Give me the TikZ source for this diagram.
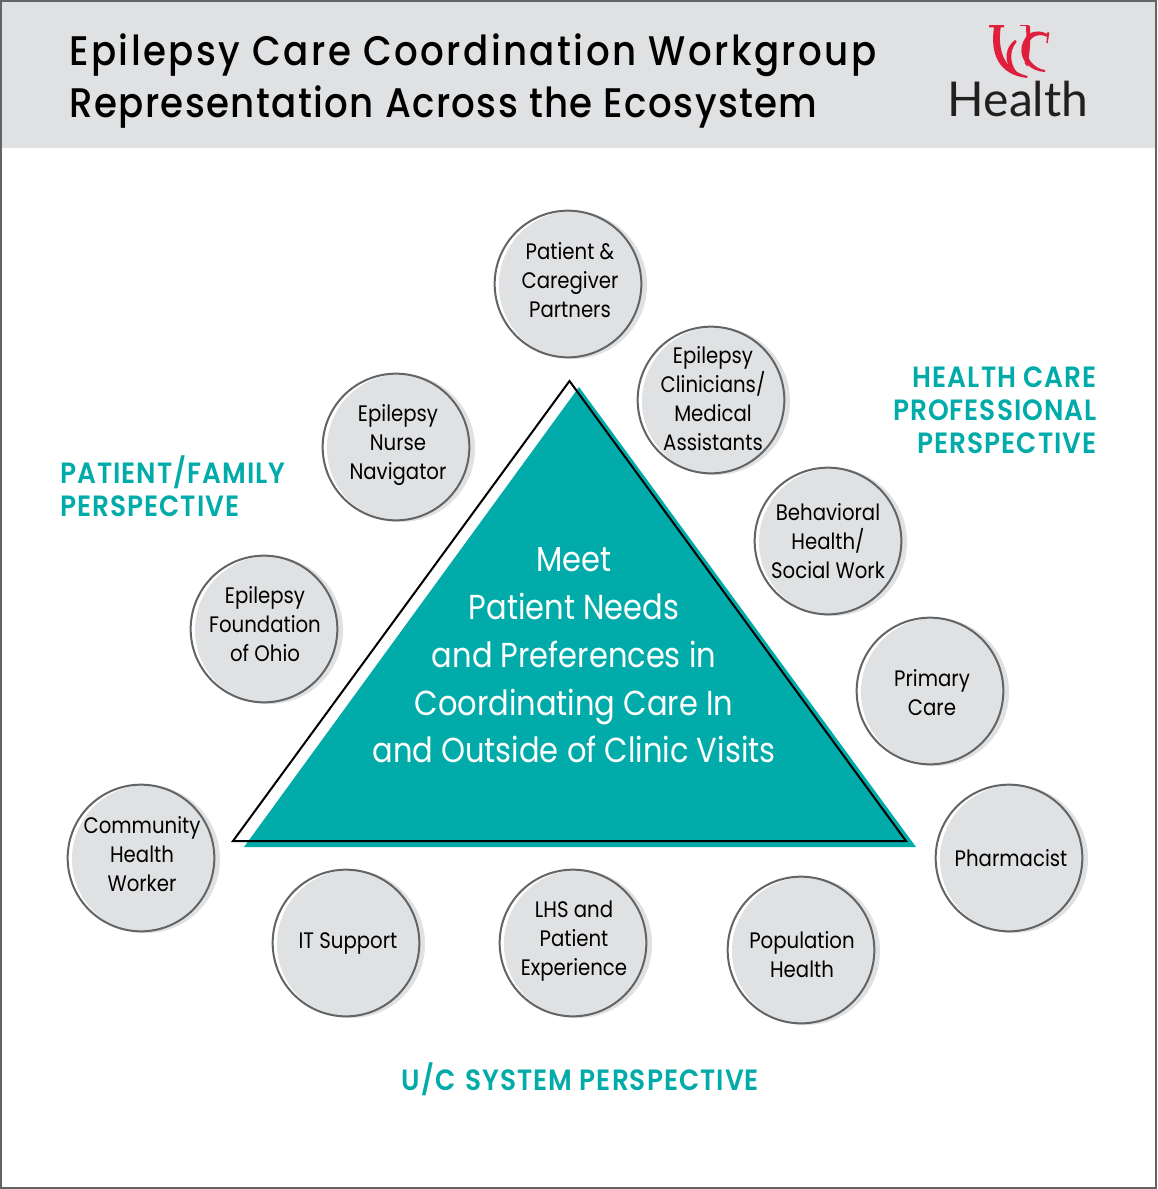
\documentclass[tikz,border=0pt]{standalone}
\usepackage{fontspec}
\setmainfont{Poppins}
\newfontfamily\bubfont[FakeStretch=0.88]{Poppins}
\newfontfamily\titlefonta[FakeStretch=0.9,LetterSpace=5.9]{Poppins Medium}
\newfontfamily\titlefontb[FakeStretch=0.9,LetterSpace=3.4]{Poppins Medium}
\newfontfamily\headfont[FakeStretch=0.9,LetterSpace=3.5]{Poppins SemiBold}
\newfontfamily\logofont{Lato}
\definecolor{teal}{HTML}{00ABA9}
\definecolor{pale}{HTML}{E0E1E3}
\definecolor{ring}{HTML}{636466}
\definecolor{ink}{HTML}{231F20}
\definecolor{ucred}{HTML}{E01F3D}
\tikzset{
  x=0.75pt,y=-0.75pt,
  disc/.style={circle,fill=pale,draw=none,minimum size=111pt,inner sep=0pt},
  ringc/.style={circle,draw=ring,line width=1.5pt,minimum size=110pt,inner sep=0pt},
  bubtext/.style={align=center,inner sep=0pt,text=black,font=\bubfont\fontsize{16.8}{21.75}\selectfont},
  headtext/.style={inner sep=0pt,text=teal,font=\headfont\fontsize{22}{24.75}\selectfont},
  centertext/.style={align=center,inner sep=0pt,text=white,font=\bubfont\fontsize{26}{35.8}\selectfont},
  titletext/.style={anchor=base west,inner sep=0pt,text=black},
}
\newcommand{\bubble}[6]{%
  \node[disc] (#1s) at (#2+5,#3+1) {};
  \node[ringc] (#1) at (#2,#3) {};
  \node[bubtext] (#1t) at (#4,#5) {#6};
}
\begin{document}
\begin{tikzpicture}
\useasboundingbox (0,0) rectangle (1157,1189);
\fill[white] (0,0) rectangle (1157,1189);
\fill[pale] (0,0) rectangle (1157,148);
\draw[ring,line width=1.5pt] (1,1) rectangle (1156,1188);
% title
\node[titletext,font=\titlefonta\fontsize{31}{39}\selectfont] (t1) at (69,65) {Epilepsy Care Coordination Workgroup};
\node[titletext,font=\titlefontb\fontsize{31}{39}\selectfont] (t2) at (69,117) {Representation Across the Ecosystem};
% logo
\begin{scope}[shift={(930,10)},x=0.25pt,y=-0.25pt]
\fill[ucred] (177,45) -- (222,45) -- (222,52) -- (212,52) .. controls (203,120) and (220,180) .. (292,198) -- (292,204) .. controls (205,195) and (180,130) .. (192,52) -- (177,52) -- cycle;
\fill[ucred] (255,90) .. controls (215,120) and (222,180) .. (272,198) .. controls (238,170) and (235,125) .. (260,95) -- cycle;
\fill[ucred] (270,44) -- (298,44) -- (298,49) -- (270,49) -- cycle;
\fill[ucred] (288,48) -- (300,48) .. controls (302,90) and (300,130) .. (292,170) -- (284,160) .. controls (290,130) and (290,90) .. (288,48) -- cycle;
\fill[ucred] (352,72) .. controls (320,55) and (285,65) .. (275,110) .. controls (268,150) and (300,184) .. (345,186) -- (345,180) .. controls (312,175) and (285,145) .. (292,110) .. controls (298,80) and (325,68) .. (350,80) -- cycle;
\fill[ucred] (352,66) -- (358,68) -- (353,100) -- (349,98) -- cycle;
\end{scope}
\node[inner sep=0pt,text=ink,font=\logofont\fontsize{36}{36}\selectfont,anchor=base] (health) at (1018,116) {Health};
% triangles
\fill[teal] (579,387) -- (916,847) -- (244,847) -- cycle;
\draw[black,line width=1.5pt,line join=miter] (569.5,381) -- (906,841) -- (233,841) -- cycle;
% center text
\node[centertext] (center) at (574,655.5) {Meet\\Patient Needs\\and Preferences in\\Coordinating Care In\\and Outside of Clinic Visits};
% bubbles
\bubble{a}{568}{284}{570}{280}{Patient \&\\Caregiver\\Partners}
\bubble{b}{711}{400}{713}{399}{Epilepsy\\Clinicians/\\Medical\\Assistants}
\bubble{c}{828}{541}{828}{541}{Behavioral\\Health/\\Social Work}
\bubble{d}{930}{691}{932}{693}{Primary\\Care}
\bubble{e}{1009}{858}{1011}{858}{Pharmacist}
\bubble{f}{801}{950}{802}{955}{Population\\Health}
\bubble{g}{573}{943}{574}{941}{LHS and\\Patient\\Experience}
\bubble{h}{346}{943}{348}{943}{IT Support}
\bubble{i}{141}{858}{142}{854}{Community\\Health\\Worker}
\bubble{j}{264}{629}{265}{624}{Epilepsy\\Foundation\\of Ohio}
\bubble{k}{396}{447}{398}{445}{Epilepsy\\Nurse\\Navigator}
% headings
\node[headtext,align=right,anchor=east] (hc) at (1097,410) {HEALTH CARE\\PROFESSIONAL\\PERSPECTIVE};
\node[headtext,align=left,anchor=west] (pf) at (60,486.5) {PATIENT/FAMILY\\PERSPECTIVE};
\node[headtext] (uc) at (580.5,1079) {U/C\ \hspace{2pt}SYSTEM PERSPECTIVE};
\end{tikzpicture}
\end{document}
